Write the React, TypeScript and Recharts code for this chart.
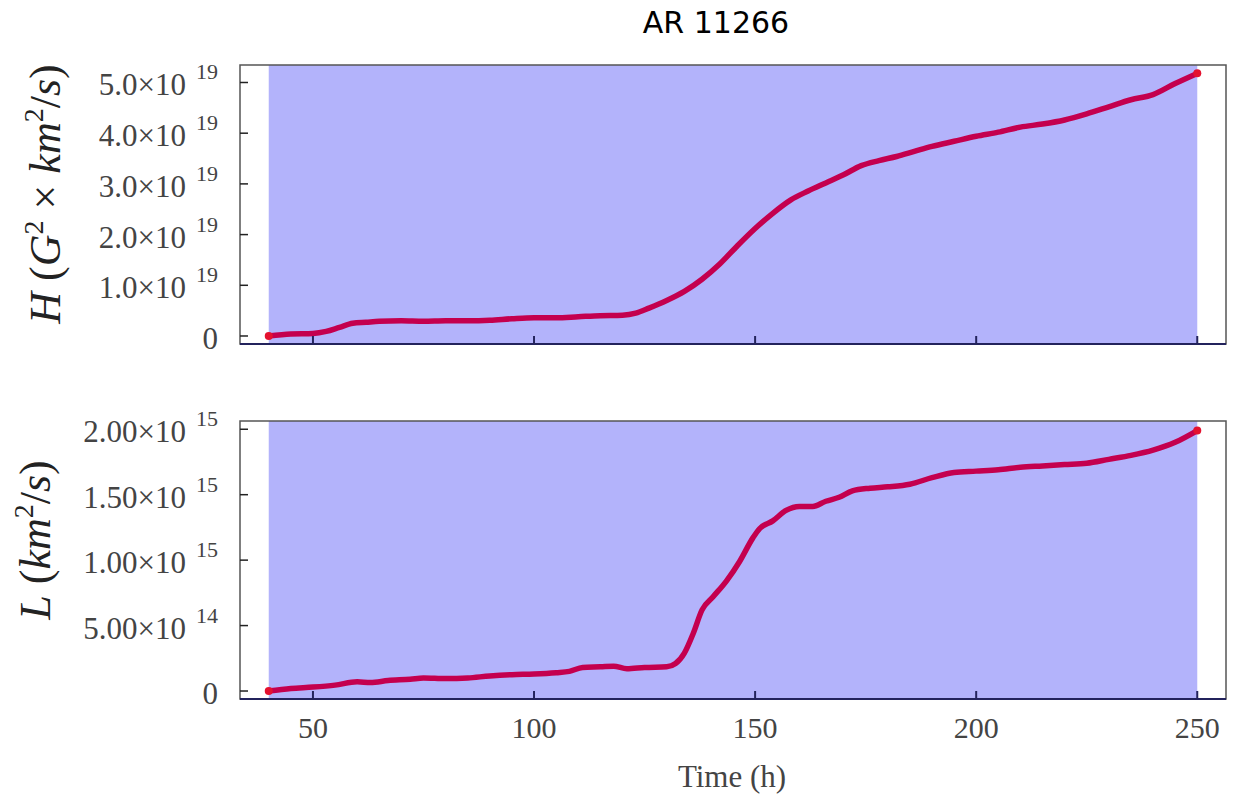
import React from "react";
import { LineChart, Line, XAxis, YAxis, ReferenceArea } from "recharts";

// AR 11266: magnetic helicity (H) and momentum-like quantity (L) vs time
const hoursH = [
  40, 45, 50, 53, 56, 59, 62, 65, 70, 75, 80, 85, 90, 95, 100, 105, 110, 115, 120, 123, 126, 130,
  134, 138, 142, 146, 150, 154, 158, 162, 166, 170, 174, 178, 182, 186, 190, 195, 200, 205, 210,
  215, 220, 225, 230, 235, 240, 245, 250,
];
// units of 1e19 G^2 km^2/s
const helicity = [
  0.0, 0.04, 0.05, 0.09, 0.17, 0.25, 0.27, 0.29, 0.3, 0.29, 0.3, 0.3, 0.31, 0.34, 0.36, 0.36, 0.38,
  0.4, 0.41, 0.45, 0.55, 0.7, 0.88, 1.12, 1.42, 1.78, 2.12, 2.42, 2.68, 2.86, 3.02, 3.18, 3.36,
  3.46, 3.54, 3.64, 3.74, 3.84, 3.94, 4.02, 4.12, 4.18, 4.26, 4.38, 4.52, 4.66, 4.76, 4.98, 5.18,
];

const hoursL = [
  40, 45, 50, 55, 60, 63, 67, 72, 75, 80, 85, 90, 95, 100, 105, 108, 111, 115, 118, 121, 125, 130,
  132, 134, 136, 138, 140.5, 143.5, 146.5, 149.5, 151, 154, 157, 160, 163, 166, 169, 172, 176, 180,
  185, 190, 195, 200, 205, 210, 215, 220, 225, 230, 235, 240, 245, 250,
];
// units of 1e15 km^2/s
const momentum = [
  0.0, 0.02, 0.03, 0.045, 0.07, 0.065, 0.08, 0.09, 0.1, 0.095, 0.1, 0.115, 0.125, 0.13, 0.14, 0.15,
  0.18, 0.185, 0.19, 0.17, 0.18, 0.185, 0.21, 0.29, 0.44, 0.62, 0.72, 0.84, 0.99, 1.17, 1.24, 1.3,
  1.38, 1.41, 1.41, 1.45, 1.48, 1.53, 1.55, 1.56, 1.58, 1.63, 1.67, 1.68, 1.69, 1.71, 1.72, 1.73,
  1.74, 1.77, 1.8, 1.84, 1.9, 1.99,
];

const xTicks = [50, 100, 150, 200, 250];
const hTicks = [0, 1e19, 2e19, 3e19, 4e19, 5e19];
const hTickLabels = ["0", "1.0×10", "2.0×10", "3.0×10", "4.0×10", "5.0×10"];
const hTickExps = ["", "19", "19", "19", "19", "19"];
const lTicks = [0, 5e14, 1e15, 1.5e15, 2e15];
const lTickLabels = ["0", "5.00×10", "1.00×10", "1.50×10", "2.00×10"];
const lTickExps = ["", "14", "15", "15", "15"];

const X_DOMAIN: [number, number] = [33.5, 256.5];
const H_DOMAIN: [number, number] = [-0.158e19, 5.345e19];
const L_DOMAIN: [number, number] = [-0.061e15, 2.063e15];

const hData = hoursH.map((t, i) => ({ t, v: helicity[i] * 1e19 }));
const lData = hoursL.map((t, i) => ({ t, v: momentum[i] * 1e15 }));

const SERIF = '"Liberation Serif", "Times New Roman", serif';
const SHADE = "#b3b3fb";
const LINE = "#c4004e";
const AXIS = "#23235c";

const makeYTick = (labels: string[], exps: string[]) => (props: any) => {
  const { x, y, index } = props;
  return (
    <g>
      <line x1={x} x2={x + 8} y1={y} y2={y} stroke="#222" strokeWidth={1.5} />
      <text x={x - 22} y={y + 13} textAnchor="end" fontFamily={SERIF} fontSize={31} fill="#444">
        {labels[index]}
        {exps[index] ? (
          <tspan dx={10} dy={-16} fontSize={22}>
            {exps[index]}
          </tspan>
        ) : null}
      </text>
    </g>
  );
};

const makeXTick = (withLabel: boolean) => (props: any) => {
  const { x, y, payload } = props;
  return (
    <g>
      <line x1={x} x2={x} y1={y} y2={y - 8} stroke={AXIS} strokeWidth={2} />
      {withLabel ? (
        <text x={x} y={y + 39} textAnchor="middle" fontFamily={SERIF} fontSize={30} fill="#444">
          {payload.value}
        </text>
      ) : null}
    </g>
  );
};

const endDots = (n: number) => (props: any) => {
  const { cx, cy, index } = props;
  if (index === 0 || index === n - 1) {
    return <circle key={index} cx={cx} cy={cy} r={4} fill="#e4112f" />;
  }
  return <g key={index} />;
};

const Panel = ({
  data,
  domain,
  ticks,
  labels,
  exps,
  height,
  top,
  xHeight,
  showXLabels,
}: any) => (
  <LineChart
    width={1233}
    height={height}
    data={data}
    margin={{ top, right: 7, bottom: 0, left: 0 }}
  >
    <ReferenceArea
      x1={data[0].t}
      x2={data[data.length - 1].t}
      fill={SHADE}
      fillOpacity={1}
      stroke="none"
      ifOverflow="visible"
    />
    <ReferenceArea
      x1={X_DOMAIN[0]}
      x2={X_DOMAIN[1]}
      y1={domain[0]}
      y2={domain[1]}
      fill="none"
      stroke="#555"
      strokeWidth={1.5}
      ifOverflow="visible"
    />
    <XAxis
      dataKey="t"
      type="number"
      domain={X_DOMAIN}
      allowDataOverflow
      ticks={xTicks}
      interval={0}
      tickSize={0}
      tickMargin={0}
      tickLine={false}
      axisLine={{ stroke: AXIS, strokeWidth: 2 }}
      height={xHeight}
      tick={makeXTick(showXLabels)}
    />
    <YAxis
      type="number"
      domain={domain}
      allowDataOverflow
      ticks={ticks}
      interval={0}
      tickSize={0}
      tickMargin={0}
      tickLine={false}
      axisLine={false}
      width={240}
      tick={makeYTick(labels, exps)}
    />
    <Line
      dataKey="v"
      type="monotone"
      stroke={LINE}
      strokeWidth={5.5}
      dot={endDots(data.length)}
      activeDot={false}
      isAnimationActive={false}
    />
  </LineChart>
);

export default function App() {
  return (
    <div style={{ position: "absolute", left: 0, top: 0, width: 1233, height: 798, background: "#fff" }}>
      <div style={{ position: "absolute", left: 0, top: 0 }}>
        <Panel
          data={hData}
          domain={H_DOMAIN}
          ticks={hTicks}
          labels={hTickLabels}
          exps={hTickExps}
          height={360}
          top={65}
          xHeight={16}
          showXLabels={false}
        />
      </div>
      <div style={{ position: "absolute", left: 0, top: 360 }}>
        <Panel
          data={lData}
          domain={L_DOMAIN}
          ticks={lTicks}
          labels={lTickLabels}
          exps={lTickExps}
          height={438}
          top={61}
          xHeight={99}
          showXLabels={true}
        />
      </div>
      <svg
        width={1233}
        height={798}
        style={{ position: "absolute", left: 0, top: 0, pointerEvents: "none" }}
      >
        <text x={716} y={33} textAnchor="middle" fontFamily='"DejaVu Sans", sans-serif' fontSize={30} fill="#000">
          AR 11266
        </text>
        <text x={732} y={787} textAnchor="middle" fontFamily={SERIF} fontSize={31} fill="#444">
          Time (h)
        </text>
        <text
          transform="translate(60,194) rotate(-90)"
          textAnchor="middle"
          fontFamily={SERIF}
          fontSize={44}
          fill="#222"
        >
          <tspan fontStyle="italic">H</tspan>
          <tspan> (</tspan>
          <tspan fontStyle="italic">G</tspan>
          <tspan dy={-17} fontSize={28}>2</tspan>
          <tspan dy={17}> × </tspan>
          <tspan fontStyle="italic">km</tspan>
          <tspan dy={-17} fontSize={28}>2</tspan>
          <tspan dy={17}>/</tspan>
          <tspan fontStyle="italic">s</tspan>
          <tspan>)</tspan>
        </text>
        <text
          transform="translate(50,540) rotate(-90)"
          textAnchor="middle"
          fontFamily={SERIF}
          fontSize={44}
          fill="#222"
        >
          <tspan fontStyle="italic">L</tspan>
          <tspan> (</tspan>
          <tspan fontStyle="italic">km</tspan>
          <tspan dy={-17} fontSize={28}>2</tspan>
          <tspan dy={17}>/</tspan>
          <tspan fontStyle="italic">s</tspan>
          <tspan>)</tspan>
        </text>
      </svg>
    </div>
  );
}
